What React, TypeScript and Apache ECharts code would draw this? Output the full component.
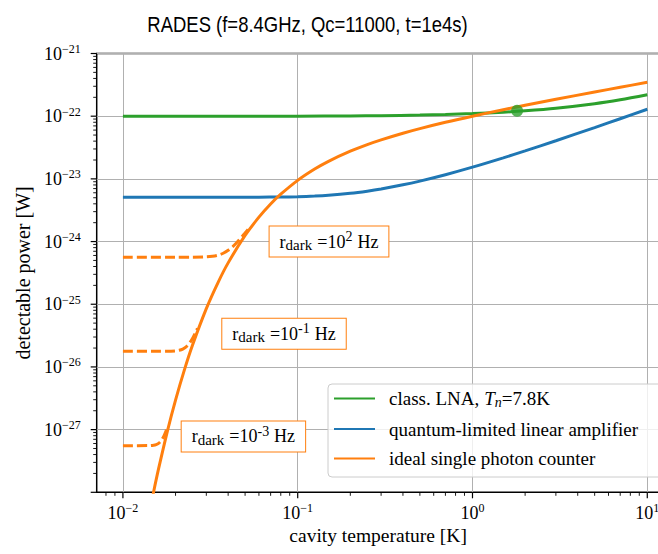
import React, { useEffect, useRef } from 'react';
import * as echarts from 'echarts';

// ---------- data ----------
const TITLE = 'RADES (f=8.4GHz, Qc=11000, t=1e4s)';
const X_NAME = 'cavity temperature [K]';
const Y_NAME = 'detectable power [W]';

const lnaT = [0.01, 0.03, 0.1, 0.2, 0.3, 0.5, 0.7, 1, 1.5, 2, 3, 5, 7, 10];
const lnaP = [1.0e-22, 1.0e-22, 1.001e-22, 1.008e-22, 1.017e-22, 1.04e-22, 1.063e-22, 1.099e-22, 1.159e-22, 1.22e-22, 1.342e-22, 1.585e-22, 1.829e-22, 2.195e-22];

const qlaT = [0.01, 0.02, 0.03, 0.05, 0.06, 0.08, 0.1, 0.125, 0.15, 0.2, 0.25, 0.3, 0.4, 0.5, 0.7, 1, 1.5, 2, 3, 5, 7, 10];
const qlaP = [5.1e-24, 5.1e-24, 5.1e-24, 5.102e-24, 5.106e-24, 5.133e-24, 5.192e-24, 5.311e-24, 5.472e-24, 5.884e-24, 6.37e-24, 6.9e-24, 8.032e-24, 9.215e-24, 1.165e-23, 1.537e-23, 2.164e-23, 2.794e-23, 4.057e-23, 6.584e-23, 9.114e-23, 1.291e-22];

const spcT = [0.014, 0.015, 0.016, 0.018, 0.02, 0.0225, 0.025, 0.03, 0.035, 0.04, 0.05, 0.06, 0.07, 0.08, 0.1, 0.125, 0.15, 0.2, 0.25, 0.3, 0.4, 0.5, 0.7, 1, 1.5, 2, 3, 5, 7, 10];
const spcP = [3.95e-29, 1.03e-28, 2.38e-28, 9.66e-28, 2.96e-27, 9.07e-27, 2.22e-26, 8.51e-26, 2.22e-25, 4.57e-25, 1.252e-24, 2.45e-24, 3.97e-24, 5.69e-24, 9.47e-24, 1.434e-23, 1.905e-23, 2.762e-23, 3.517e-23, 4.185e-23, 5.343e-23, 6.33e-23, 7.99e-23, 1.0e-22, 1.269e-22, 1.491e-22, 1.858e-22, 2.432e-22, 2.893e-22, 3.47e-22];

const dark2T = [0.01, 0.02, 0.025, 0.03, 0.0325, 0.035, 0.0375, 0.04, 0.0425, 0.045, 0.0475, 0.05, 0.052];
const dark2P = [5.63e-25, 5.63e-25, 5.634e-25, 5.694e-25, 5.808e-25, 6.053e-25, 6.509e-25, 7.249e-25, 8.33e-25, 9.777e-25, 1.158e-24, 1.372e-24, 1.565e-24];

const darkM1T = [0.01, 0.015, 0.018, 0.02, 0.021, 0.022, 0.023, 0.024, 0.025, 0.026, 0.0267];
const darkM1P = [1.78e-26, 1.78e-26, 1.781e-26, 1.804e-26, 1.843e-26, 1.928e-26, 2.094e-26, 2.385e-26, 2.846e-26, 3.513e-26, 4.117e-26];

const darkM3T = [0.01, 0.014, 0.015, 0.0155, 0.016, 0.0165, 0.017, 0.0175, 0.018];
const darkM3P = [5.55e-28, 5.564e-28, 5.645e-28, 5.773e-28, 6.04e-28, 6.557e-28, 7.472e-28, 8.947e-28, 1.114e-27];

const markerPoint = [1.8, 1.22e-22];

const darkLabels = [
  { exp: '2', at: [0.151, 1.0e-24] },
  { exp: '-1', at: [0.0835, 3.38e-26] },
  { exp: '-3', at: [0.0489, 7.8e-28] },
];

const xDecades = [-2, -1, 0, 1];
const yDecades = [-28, -27, -26, -25, -24, -23, -22, -21];

const SERIES_NAMES = ['class. LNA, Tn=7.8K', 'quantum-limited linear amplifier', 'ideal single photon counter'];

// ---------- styling ----------
const SERIF = "'Liberation Serif', 'DejaVu Serif', serif";
const SANS = "'Liberation Sans', Arial, sans-serif";
const GREEN = '#2ca02c';
const BLUE = '#1f77b4';
const ORANGE = '#ff7f0e';
const LW = 3;

const X_MIN = Math.pow(10, -2.15);
const X_MAX = Math.pow(10, 1.15);
const Y_MIN = 1e-28;
const Y_MAX = 1e-21;

const zip = (a: number[], b: number[]) => a.map((v, i) => [v, b[i]]);

const tickFormatter = (v: number) => {
  const l = Math.log10(v);
  const e = Math.round(l);
  if (Math.abs(l - e) > 1e-6) return '';
  return `{b|10}{s|${e < 0 ? '\u2212' : ''}${Math.abs(e)}}`;
};

const tickRich = {
  b: { fontSize: 18, fontFamily: SERIF, color: '#000' },
  s: { fontSize: 12, fontFamily: SERIF, color: '#000', padding: [0, 0, 9, 0] },
};

function buildTicks() {
  const data: number[][] = [];
  xDecades.forEach((d) => data.push([Math.pow(10, d), Y_MIN, 0]));
  [8e-3, 9e-3].forEach((v) => data.push([v, Y_MIN, 1]));
  xDecades.slice(0, 3).forEach((d) => {
    for (let k = 2; k <= 9; k++) data.push([k * Math.pow(10, d), Y_MIN, 1]);
  });
  yDecades.forEach((d) => data.push([X_MIN, Math.pow(10, d), 2]));
  yDecades.slice(0, 7).forEach((d) => {
    for (let k = 2; k <= 9; k++) data.push([X_MIN, k * Math.pow(10, d), 3]);
  });
  return data;
}

const annRich = {
  m: { fontSize: 18, fontFamily: SERIF, color: '#000' },
  sub: { fontSize: 15, fontFamily: SERIF, color: '#000', padding: [7, 0, 0, 0] },
  eq: { fontSize: 18, fontFamily: SERIF, color: '#000', padding: [0, 0, 0, 5] },
  sup: { fontSize: 14, fontFamily: SERIF, color: '#000', padding: [0, 0, 10, 0] },
  hz: { fontSize: 18, fontFamily: SERIF, color: '#000', padding: [0, 0, 0, 5] },
};

const legendText: Record<string, string> = {
  [SERIES_NAMES[0]]: '{f|class. LNA,}{i|T}{s|n}{n|=7.8K}',
  [SERIES_NAMES[1]]: '{f|quantum-limited linear amplifier}',
  [SERIES_NAMES[2]]: '{f|ideal single photon counter}',
};

function buildOption(): any {
  const lineBase = { type: 'line', symbol: 'none', showSymbol: false, smooth: 0.3, clip: true, silent: true };
  return {
    animation: false,
    backgroundColor: '#fff',
    textStyle: { fontFamily: SERIF },
    graphic: [
      {
        type: 'text',
        x: 307.5,
        y: 24,
        scaleX: 0.84,
        style: {
          text: TITLE,
          fontSize: 22,
          fontFamily: SANS,
          fill: '#000',
          textAlign: 'center',
          textVerticalAlign: 'middle',
          align: 'center',
          verticalAlign: 'middle',
        },
      },
    ],
    grid: {
      left: 96.7,
      right: -15.5,
      top: 53.5,
      bottom: 61.7,
      show: true,
      borderColor: '#000',
      borderWidth: 1.5,
      backgroundColor: 'transparent',
      containLabel: false,
      outerBoundsMode: 'none',
    },
    xAxis: {
      type: 'log',
      logBase: 10,
      min: X_MIN,
      max: X_MAX,
      axisLine: { show: false },
      axisTick: { show: false },
      splitLine: { show: true, showMinLine: false, showMaxLine: false, lineStyle: { color: '#b0b0b0', width: 1 } },
      axisLabel: { formatter: tickFormatter, rich: tickRich, margin: 10 },
      name: X_NAME,
      nameLocation: 'middle',
      nameGap: 33,
      nameMoveOverlap: false,
      nameTextStyle: { fontFamily: SERIF, fontSize: 19.5, color: '#000', padding: [0, 14, 0, 0] },
    },
    yAxis: {
      type: 'log',
      logBase: 10,
      min: Y_MIN,
      max: Y_MAX,
      axisLine: { show: false },
      axisTick: { show: false },
      splitLine: { show: true, showMinLine: false, showMaxLine: false, lineStyle: { color: '#b0b0b0', width: 1 } },
      axisLabel: { formatter: tickFormatter, rich: tickRich, margin: 16 },
      name: Y_NAME,
      nameLocation: 'middle',
      nameGap: 64,
      nameMoveOverlap: false,
      nameTextStyle: { fontFamily: SERIF, fontSize: 20, color: '#000' },
    },
    legend: {
      data: SERIES_NAMES,
      orient: 'vertical',
      left: 328,
      top: 384,
      padding: [5, 30, 9, 5],
      itemWidth: 41,
      itemHeight: 22,
      itemGap: 10.5,
      backgroundColor: 'rgba(255,255,255,0.8)',
      borderColor: '#cccccc',
      borderWidth: 1,
      borderRadius: 4,
      selectedMode: false,
      itemStyle: { opacity: 0 },
      formatter: (name: string) => legendText[name],
      textStyle: {
        fontFamily: SERIF,
        fontSize: 19,
        color: '#000',
        rich: {
          f: { fontFamily: SERIF, fontSize: 19, color: '#000', padding: [0, 0, 0, 9] },
          i: { fontFamily: SERIF, fontSize: 19, fontStyle: 'italic', color: '#000', padding: [0, 0, 0, 5] },
          s: { fontFamily: SERIF, fontSize: 14, fontStyle: 'italic', color: '#000', padding: [7, 0, 0, 0] },
          n: { fontFamily: SERIF, fontSize: 19, color: '#000' },
        },
      },
    },
    series: [
      {
        ...lineBase,
        name: 'dark 1e2',
        data: zip(dark2T, dark2P),
        lineStyle: { color: ORANGE, width: LW, type: [10, 4] },
        itemStyle: { color: ORANGE },
      },
      {
        ...lineBase,
        name: 'dark 1e-1',
        data: zip(darkM1T, darkM1P),
        lineStyle: { color: ORANGE, width: LW, type: [10, 4] },
        itemStyle: { color: ORANGE },
      },
      {
        ...lineBase,
        name: 'dark 1e-3',
        data: zip(darkM3T, darkM3P),
        lineStyle: { color: ORANGE, width: LW, type: [10, 4] },
        itemStyle: { color: ORANGE },
      },
      {
        ...lineBase,
        name: SERIES_NAMES[0],
        data: zip(lnaT, lnaP),
        lineStyle: { color: GREEN, width: LW },
        itemStyle: { color: GREEN },
      },
      {
        ...lineBase,
        name: SERIES_NAMES[1],
        data: zip(qlaT, qlaP),
        lineStyle: { color: BLUE, width: LW },
        itemStyle: { color: BLUE },
      },
      {
        ...lineBase,
        name: SERIES_NAMES[2],
        data: zip(spcT, spcP),
        lineStyle: { color: ORANGE, width: LW },
        itemStyle: { color: ORANGE },
        markPoint: {
          silent: true,
          data: darkLabels.map((d) => ({
            coord: d.at,
            symbol: 'rect',
            symbolSize: 1,
            itemStyle: { color: 'rgba(0,0,0,0)' },
            label: {
              show: true,
              position: 'inside',
              formatter: `{m|r}{sub|dark}{eq|=10}{sup|${d.exp}}{hz|Hz}`,
              color: '#000',
              backgroundColor: '#fff',
              borderColor: ORANGE,
              borderWidth: 1,
              padding: [3, 10, 3, 10],
              rich: annRich,
            },
          })),
        },
      },
      {
        type: 'scatter',
        name: 'marker',
        data: [markerPoint],
        symbolSize: 12,
        itemStyle: { color: GREEN },
        silent: true,
        z: 5,
      },
      {
        type: 'custom',
        name: 'ticks',
        silent: true,
        clip: false,
        dimensions: ['x', 'y', 'k'],
        encode: { x: 0, y: 1 },
        data: buildTicks(),
        renderItem: (params: any, api: any) => {
          const k = api.value(2);
          const p = api.coord([api.value(0), api.value(1)]);
          const len = k % 2 === 0 ? 6 : 3.5;
          const w = k % 2 === 0 ? 1.2 : 0.9;
          if (k < 2) {
            return { type: 'line', shape: { x1: p[0], y1: p[1], x2: p[0], y2: p[1] + len }, style: { stroke: '#000', lineWidth: w } };
          }
          return { type: 'line', shape: { x1: p[0] - len, y1: p[1], x2: p[0], y2: p[1] }, style: { stroke: '#000', lineWidth: w } };
        },
      },
    ],
  };
}

export default function App() {
  const ref = useRef<HTMLDivElement>(null);
  useEffect(() => {
    if (!ref.current) return;
    const chart = echarts.init(ref.current, null, { renderer: 'svg' });
    chart.setOption(buildOption());
    return () => chart.dispose();
  }, []);
  return (
    <div
      ref={ref}
      style={{ position: 'fixed', left: 0, top: 0, width: 658, height: 554, background: '#fff' }}
    />
  );
}
